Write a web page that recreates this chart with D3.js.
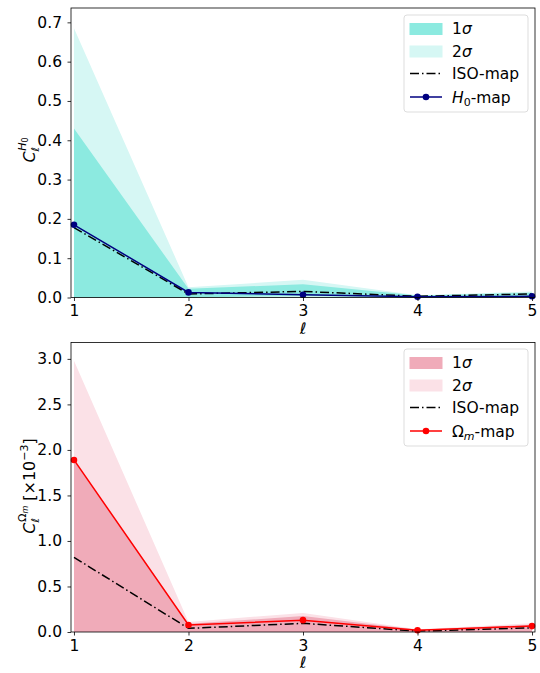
<!DOCTYPE html>
<html><head><meta charset="utf-8">
<script src="https://cdn.jsdelivr.net/npm/d3@7"></script>
<style>body{margin:0;background:#fff}svg{font-family:"DejaVu Sans",sans-serif}</style>
</head><body><svg id="c" width="540" height="673"></svg>
<script>
const ells = [1, 2, 3, 4, 5];
const xTicks = [1, 2, 3, 4, 5];
// Top panel (H0)
const h0Map = [0.185, 0.013, 0.007, 0.002, 0.003];
const h0Iso = [0.178, 0.009, 0.0155, 0.003, 0.009];
const h0Sig1Lo = [0, 0, 0.004, 0, 0.001];
const h0Sig1Hi = [0.43, 0.022, 0.034, 0.005, 0.012];
const h0Sig2Lo = [0, 0, 0, 0, 0];
const h0Sig2Hi = [0.685, 0.026, 0.045, 0.006, 0.0155];
const h0YTicks = [0.0, 0.1, 0.2, 0.3, 0.4, 0.5, 0.6, 0.7];
// Bottom panel (Omega_m, x1e-3)
const omMap = [1.89, 0.077, 0.13, 0.02, 0.065];
const omIso = [0.82, 0.04, 0.095, 0.01, 0.045];
const omSig1Lo = [0, 0, 0, 0, 0];
const omSig1Hi = [1.89, 0.09, 0.175, 0.025, 0.08];
const omSig2Lo = [0, 0, 0, 0, 0];
const omSig2Hi = [2.98, 0.11, 0.21, 0.03, 0.095];
const omYTicks = [0.0, 0.5, 1.0, 1.5, 2.0, 2.5, 3.0];

const FS = 15.5;
const svg = d3.select("#c");

function panel(cfg) {
  const {top, bottom, left, right, ymax, yTicks, map, iso, s1lo, s1hi, s2lo, s2hi, c1, c2, lineColor, yfmt} = cfg;
  const x = d3.scaleLinear().domain([0.974, 5.026]).range([left, right]);
  const y = d3.scaleLinear().domain([0, ymax]).range([bottom, top]);
  const g = svg.append("g");
  const area = (lo, hi) => d3.area().x((d, i) => x(ells[i])).y0((d, i) => y(lo[i])).y1((d, i) => y(hi[i]))(ells);
  g.append("path").attr("d", area(s2lo, s2hi)).attr("fill", c2);
  g.append("path").attr("d", area(s1lo, s1hi)).attr("fill", c1);
  const line = vals => d3.line().x((d, i) => x(ells[i])).y((d, i) => y(vals[i]))(ells);
  g.append("path").attr("d", line(iso)).attr("fill", "none").attr("stroke", "#000").attr("stroke-width", 1.5).attr("stroke-dasharray", "9,3,1.5,3");
  g.append("path").attr("d", line(map)).attr("fill", "none").attr("stroke", lineColor).attr("stroke-width", 1.5);
  g.selectAll("circle.m").data(map).enter().append("circle").attr("cx", (d, i) => x(ells[i])).attr("cy", d => y(d)).attr("r", 3.3).attr("fill", lineColor);
  const xa = g.append("g").attr("transform", `translate(0,${bottom})`).call(d3.axisBottom(x).tickValues(xTicks).tickFormat(d3.format("d")).tickSize(3.5).tickPadding(4));
  const ya = g.append("g").attr("transform", `translate(${left},0)`).call(d3.axisLeft(y).tickValues(yTicks).tickFormat(d3.format(yfmt)).tickSize(3.5).tickPadding(5.5));
  [xa, ya].forEach(a => { a.select(".domain").remove(); a.selectAll("text").attr("font-size", FS).attr("fill", "#000").attr("font-family", "DejaVu Sans"); a.selectAll("line").attr("stroke", "#000").attr("stroke-width", 0.8); });
  g.append("rect").attr("x", left).attr("y", top).attr("width", right - left).attr("height", bottom - top).attr("fill", "none").attr("stroke", "#000").attr("stroke-width", 0.8);
  return {x, y, g};
}

const topP = panel({top: 8, bottom: 297.5, left: 71, right: 535, ymax: 0.7365, yTicks: h0YTicks,
  map: h0Map, iso: h0Iso, s1lo: h0Sig1Lo, s1hi: h0Sig1Hi, s2lo: h0Sig2Lo, s2hi: h0Sig2Hi,
  c1: "#8ceae0", c2: "#d6f7f4", lineColor: "#000080", yfmt: ".1f"});
const botP = panel({top: 342.5, bottom: 632, left: 71, right: 535, ymax: 3.18, yTicks: omYTicks,
  map: omMap, iso: omIso, s1lo: omSig1Lo, s1hi: omSig1Hi, s2lo: omSig2Lo, s2hi: omSig2Hi,
  c1: "#f0abb9", c2: "#fbe1e7", lineColor: "#ff0000", yfmt: ".1f"});

[334, 668].forEach(yy => {
  svg.append("text").attr("x", 303).attr("y", yy).attr("text-anchor", "middle").attr("font-size", 16).attr("font-style", "italic").text("ℓ");
});

function ylab(cx, cy, build) {
  const t = svg.append("text").attr("transform", `translate(${cx},${cy}) rotate(-90)`).attr("text-anchor", "middle").attr("font-size", 16);
  build(t);
}
ylab(35, 150, t => {
  t.append("tspan").attr("font-style", "italic").text("C");
  t.append("tspan").attr("font-size", 11).attr("font-style", "italic").attr("dy", 4).text("ℓ");
  t.append("tspan").attr("font-size", 11).attr("font-style", "italic").attr("dy", -13).attr("dx", -4).text("H");
  t.append("tspan").attr("font-size", 8).attr("dy", 2).text("0");
});
ylab(35, 486, t => {
  t.append("tspan").attr("font-style", "italic").text("C");
  t.append("tspan").attr("font-size", 11).attr("font-style", "italic").attr("dy", 4).text("ℓ");
  t.append("tspan").attr("font-size", 11).attr("dy", -13).attr("dx", -4).text("Ω");
  t.append("tspan").attr("font-size", 8).attr("font-style", "italic").attr("dy", 2).text("m");
  t.append("tspan").attr("dy", 7).text(" [×10");
  t.append("tspan").attr("font-size", 11).attr("dy", -7).text("−3");
  t.append("tspan").attr("dy", 7).text("]");
});

function legend(x0, y0, c1, c2, lineColor, lastLabel) {
  const g = svg.append("g");
  g.append("rect").attr("x", x0).attr("y", y0).attr("width", 124).attr("height", 97).attr("rx", 3).attr("fill", "#fff").attr("fill-opacity", 0.8).attr("stroke", "#ddd").attr("stroke-width", 1);
  const rows = [y0 + 13.5, y0 + 36, y0 + 58.5, y0 + 82];
  g.append("rect").attr("x", x0 + 6).attr("y", rows[0] - 5).attr("width", 32).attr("height", 11).attr("fill", c1).attr("stroke", c1);
  g.append("rect").attr("x", x0 + 6).attr("y", rows[1] - 5).attr("width", 32).attr("height", 11).attr("fill", c2).attr("stroke", c2);
  g.append("line").attr("x1", x0 + 6).attr("x2", x0 + 38).attr("y1", rows[2]).attr("y2", rows[2]).attr("stroke", "#000").attr("stroke-width", 1.5).attr("stroke-dasharray", "9,3,1.5,3");
  g.append("line").attr("x1", x0 + 6).attr("x2", x0 + 38).attr("y1", rows[3]).attr("y2", rows[3]).attr("stroke", lineColor).attr("stroke-width", 1.5);
  g.append("circle").attr("cx", x0 + 22).attr("cy", rows[3]).attr("r", 3.3).attr("fill", lineColor);
  const tx = x0 + 48;
  const t0 = g.append("text").attr("x", tx).attr("y", rows[0] + 5.5).attr("font-size", FS);
  t0.append("tspan").text("1"); t0.append("tspan").attr("font-style", "italic").text("σ");
  const t1 = g.append("text").attr("x", tx).attr("y", rows[1] + 5.5).attr("font-size", FS);
  t1.append("tspan").text("2"); t1.append("tspan").attr("font-style", "italic").text("σ");
  g.append("text").attr("x", tx).attr("y", rows[2] + 5.5).attr("font-size", FS).text("ISO-map");
  const t3 = g.append("text").attr("x", tx).attr("y", rows[3] + 5.5).attr("font-size", FS);
  lastLabel(t3);
}
legend(404, 15, "#8ceae0", "#d6f7f4", "#000080", t => {
  t.append("tspan").attr("font-style", "italic").text("H");
  t.append("tspan").attr("font-size", 11).attr("dy", 3).text("0");
  t.append("tspan").attr("dy", -3).text("-map");
});
legend(404, 349, "#f0abb9", "#fbe1e7", "#ff0000", t => {
  t.append("tspan").text("Ω");
  t.append("tspan").attr("font-size", 11).attr("font-style", "italic").attr("dy", 3).text("m");
  t.append("tspan").attr("dy", -3).text("-map");
});
</script></body></html>
